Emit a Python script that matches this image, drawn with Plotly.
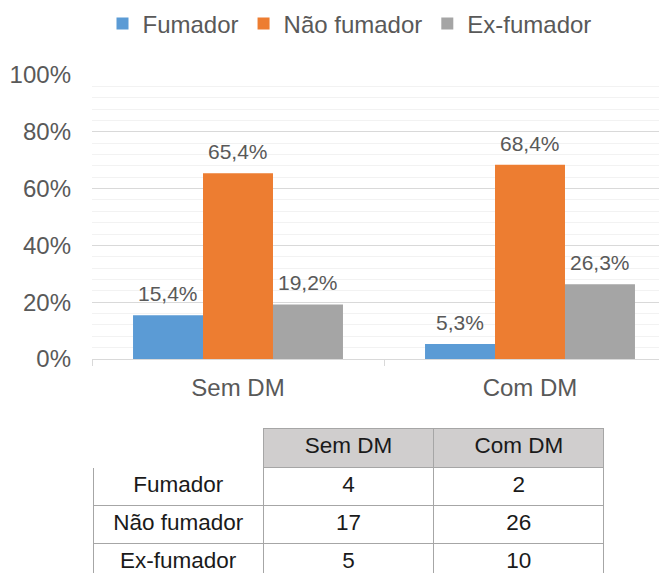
import plotly.graph_objects as go

# categories and series (percent of each group)
groups = ['Sem DM', 'Com DM']
series_names = ['Fumador', 'Não fumador', 'Ex-fumador']
fumador = [15.4, 5.3]
nao_fumador = [65.4, 68.4]
ex_fumador = [19.2, 26.3]

# absolute counts shown in the table
counts_sem = [4, 17, 5]
counts_com = [2, 26, 10]

colors = ['#5b9bd5', '#ed7d31', '#a5a5a5']
font_family = 'Arial, Liberation Sans, sans-serif'
text_grey = '#595959'

# the plot area runs past the right edge of the window, so the figure is a bit wider
W, H = 680, 573
OFF = 8  # default body margin of the html page


def fx(px):
    return (px - OFF) / W


def fy(px):
    return 1 - (px - OFF) / H


fig = go.Figure()

all_series = [fumador, nao_fumador, ex_fumador]
for name, vals, col in zip(series_names, all_series, colors):
    fig.add_trace(go.Bar(x=groups, y=vals, name=name, marker=dict(color=col, line=dict(width=0))))

# data labels above bars
bar_px = 70
for i, vals in enumerate(all_series):
    for g, v in zip(groups, vals):
        fig.add_annotation(x=g, y=v, text=f'{v:.1f}%'.replace('.', ','),
                           showarrow=False, yanchor='bottom', xshift=(i - 1) * bar_px, yshift=8,
                           font=dict(size=21, color=text_grey, family=font_family))

# table below the chart
fig.add_trace(go.Table(
    domain=dict(x=[fx(93), fx(604)], y=[0, fy(428)]),
    columnwidth=[1, 1, 1],
    header=dict(values=['', groups[0], groups[1]],
                fill=dict(color=['white', '#d0cece', '#d0cece']),
                line=dict(color=['white', '#a6a6a6', '#a6a6a6'], width=1),
                align='center', height=39,
                font=dict(size=22.5, color='#1a1a1a', family=font_family)),
    cells=dict(values=[series_names, counts_sem, counts_com],
               fill=dict(color='white'),
               line=dict(color='#a6a6a6', width=1),
               align='center', height=38,
               font=dict(size=22.5, color='#1a1a1a', family=font_family)),
))

fig.update_layout(
    width=W, height=H,
    margin=dict(l=0, r=0, t=0, b=0, autoexpand=False),
    paper_bgcolor='white', plot_bgcolor='white',
    barmode='group', bargap=0.281, bargroupgap=0,
    font=dict(family=font_family, color=text_grey),
    showlegend=True,
    legend=dict(orientation='h', xref='container', yref='container',
                x=fx(349.5), xanchor='center', y=fy(24), yanchor='middle',
                font=dict(size=24, color=text_grey), itemclick=False),
    xaxis=dict(domain=[fx(92), fx(676)], showline=True, linecolor='#d9d9d9', linewidth=1,
               ticks='outside', tickson='boundaries', ticklen=6, tickcolor='#d9d9d9',
               ticklabelstandoff=7,
               tickfont=dict(size=24, color=text_grey), showgrid=False),
    yaxis=dict(domain=[fy(359), fy(75)], range=[0, 100], dtick=20, ticksuffix='%',
               gridcolor='#d9d9d9', gridwidth=1, zeroline=False, ticks='', ticklabelstandoff=20,
               tickfont=dict(size=24, color=text_grey),
               minor=dict(dtick=4, showgrid=True, gridcolor='#f2f2f2', gridwidth=1)),
)

fig.write_html('out.html')
